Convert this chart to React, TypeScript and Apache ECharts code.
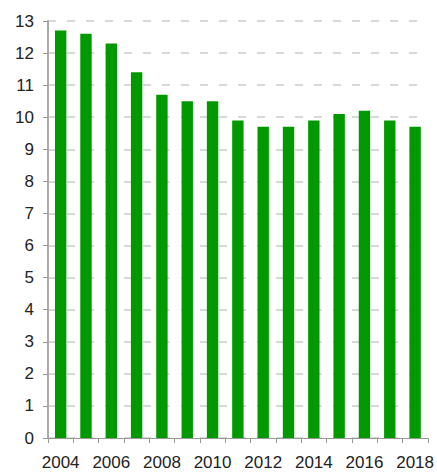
import React, { useEffect, useRef } from "react";
import * as echarts from "echarts";

const years = ["2004", "2005", "2006", "2007", "2008", "2009", "2010", "2011", "2012", "2013", "2014", "2015", "2016", "2017", "2018"];
const values = [12.7, 12.6, 12.3, 11.4, 10.7, 10.5, 10.5, 9.9, 9.7, 9.7, 9.9, 10.1, 10.2, 9.9, 9.7];

export default function App() {
  const ref = useRef<HTMLDivElement>(null);
  useEffect(() => {
    const chart = echarts.init(ref.current!, null, { renderer: "svg" });
    chart.setOption({
      animation: false,
      grid: { left: 48, right: 9, top: 21, bottom: 34, containLabel: false },
      xAxis: {
        type: "category",
        data: years,
        axisLine: { lineStyle: { color: "#999", width: 1 } },
        axisTick: { show: true, length: 5, alignWithLabel: false, interval: 0, lineStyle: { color: "#999" } },
        axisLabel: {
          interval: 1,
          margin: 16,
          fontFamily: "Liberation Sans, Arial, sans-serif",
          fontSize: 17,
          color: "#222",
        },
      },
      yAxis: {
        type: "value",
        min: 0,
        max: 13,
        interval: 1,
        axisLine: { show: true, lineStyle: { color: "#aaa", width: 2 } },
        axisTick: { show: true, length: 5, lineStyle: { color: "#999" } },
        axisLabel: {
          margin: 14,
          fontFamily: "Liberation Sans, Arial, sans-serif",
          fontSize: 17,
          color: "#222",
        },
        splitLine: { show: true, lineStyle: { color: "#ccc", type: [8, 11], width: 1.5 } },
      },
      series: [
        {
          type: "bar",
          data: values,
          barWidth: "45%",
          itemStyle: { color: "#009900" },
        },
      ],
    });
    return () => chart.dispose();
  }, []);
  return <div ref={ref} style={{ width: 437, height: 472, position: "absolute", left: 0, top: 0 }} />;
}
